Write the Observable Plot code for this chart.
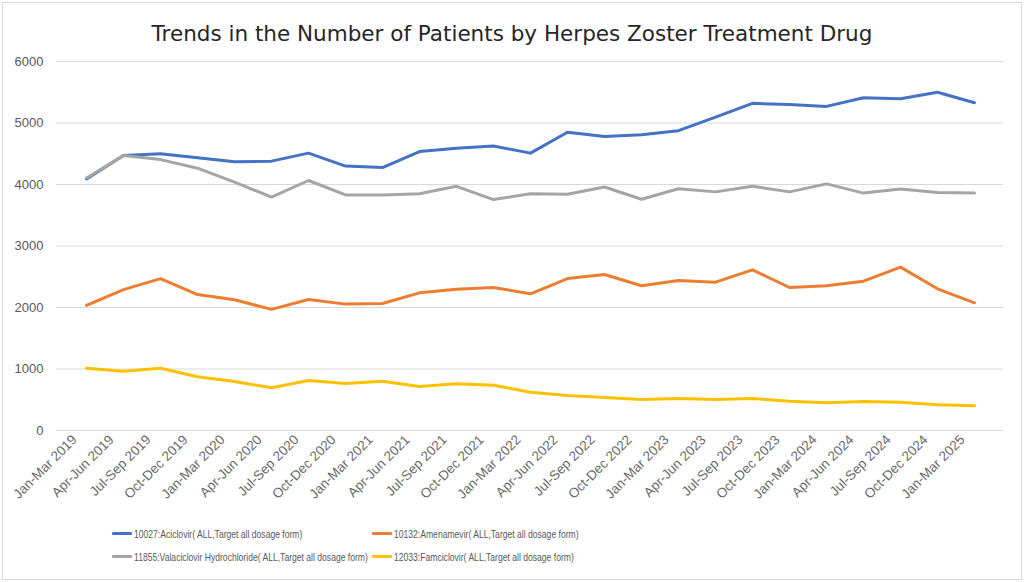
<!DOCTYPE html>
<html>
<head>
<meta charset="utf-8">
<script src="https://cdn.jsdelivr.net/npm/d3@7"></script>
<script src="https://cdn.jsdelivr.net/npm/@observablehq/plot@0.6"></script>
<style>
  html, body { margin: 0; padding: 0; background: #fff; }
  #wrap { position: relative; width: 1024px; height: 582px; overflow: hidden; background: #fff; }
  #frame { position: absolute; left: 2px; top: 2px; width: 1018px; height: 576px; border: 1px solid #d9d9d9; pointer-events: none; }
  #title { height: 50px; box-sizing: border-box; padding-top: 22px; font-family: "DejaVu Sans", sans-serif; font-size: 21.5px; line-height: 24px; text-align: center; color: #262626; }
  #chart svg { display: block; }
  #legend { padding-top: 17px; padding-left: 112px; display: grid; grid-template-columns: 260px 400px; row-gap: 0; font-family: "Liberation Sans", sans-serif; font-size: 11px; color: #595959; }
  .item { height: 23px; display: flex; align-items: center; white-space: nowrap; }
  .sw { width: 20px; height: 3px; margin-right: 2px; flex: none; border-radius: 1px; }
  .lbl { display: inline-block; transform: scaleX(0.78); transform-origin: left center; }
</style>
</head>
<body>
<div id="wrap">
  <div id="frame"></div>
  <div id="title">Trends in the Number of Patients by Herpes Zoster Treatment Drug</div>
  <div id="chart"></div>
  <div id="legend"></div>
</div>
<script>
const quarters = [
  "Jan-Mar 2019","Apr-Jun 2019","Jul-Sep 2019","Oct-Dec 2019",
  "Jan-Mar 2020","Apr-Jun 2020","Jul-Sep 2020","Oct-Dec 2020",
  "Jan-Mar 2021","Apr-Jun 2021","Jul-Sep 2021","Oct-Dec 2021",
  "Jan-Mar 2022","Apr-Jun 2022","Jul-Sep 2022","Oct-Dec 2022",
  "Jan-Mar 2023","Apr-Jun 2023","Jul-Sep 2023","Oct-Dec 2023",
  "Jan-Mar 2024","Apr-Jun 2024","Jul-Sep 2024","Oct-Dec 2024",
  "Jan-Mar 2025"
];
const aciclovir = [4090,4470,4500,4435,4370,4380,4510,4300,4275,4535,4590,4625,4510,4850,4780,4810,4875,5095,5320,5300,5270,5410,5395,5500,5330];
const amenamevir = [2035,2290,2470,2210,2125,1970,2130,2055,2065,2238,2298,2325,2222,2470,2537,2353,2440,2412,2613,2325,2353,2428,2656,2304,2076];
const valaciclovir = [4105,4470,4405,4265,4040,3795,4065,3830,3830,3850,3970,3755,3850,3840,3960,3760,3930,3880,3970,3880,4010,3860,3925,3870,3860];
const famciclovir = [1013,965,1013,873,797,694,813,764,802,715,759,737,623,569,537,504,520,504,520,477,450,472,461,417,401];
const seriesNames = [
  "10027:Aciclovir( ALL,Target all dosage form)",
  "10132:Amenamevir( ALL,Target all dosage form)",
  "11855:Valaciclovir Hydrochloride( ALL,Target all dosage form)",
  "12033:Famciclovir( ALL,Target all dosage form)"
];
const seriesColors = ["#4472C4", "#ED7D31", "#A5A5A5", "#FFC000"];
const yTicks = [0, 1000, 2000, 3000, 4000, 5000, 6000];

const seriesValues = [aciclovir, amenamevir, valaciclovir, famciclovir];
const data = [];
seriesValues.forEach((vals, si) => {
  vals.forEach((v, i) => data.push({series: seriesNames[si], quarter: quarters[i], value: v}));
});

const chart = Plot.plot({
  width: 1024,
  height: 455,
  marginTop: 11,
  marginBottom: 75,
  marginLeft: 56,
  marginRight: 21,
  style: {fontFamily: "Liberation Sans, sans-serif", fontSize: "12px", color: "#595959", background: "transparent"},
  x: {type: "point", domain: quarters, padding: 0.5, label: null},
  y: {domain: [0, 6000], label: null},
  color: {domain: seriesNames, range: seriesColors},
  marks: [
    Plot.gridY(yTicks, {stroke: "#d9d9d9", strokeOpacity: 1, strokeWidth: 1}),
    Plot.axisY(yTicks, {tickSize: 0, tickPadding: 13, fontSize: 13, label: null, fill: "#595959", tickFormat: d3.format("d")}),
    Plot.axisX({tickRotate: -45, tickSize: 0, tickPadding: 6, label: null, fontSize: 13.5, fill: "#6a6a6a", dx: -12, dy: 1}),
    Plot.line(data, {x: "quarter", y: "value", z: "series", stroke: "series", strokeWidth: 3, strokeLinejoin: "round", strokeLinecap: "round"})
  ]
});
document.getElementById("chart").appendChild(chart);

const legend = document.getElementById("legend");
seriesNames.forEach((name, i) => {
  const item = document.createElement("div");
  item.className = "item";
  const sw = document.createElement("span");
  sw.className = "sw";
  sw.style.background = seriesColors[i];
  const label = document.createElement("span");
  label.className = "lbl";
  label.textContent = name;
  item.appendChild(sw);
  item.appendChild(label);
  legend.appendChild(item);
});
</script>
</body>
</html>
